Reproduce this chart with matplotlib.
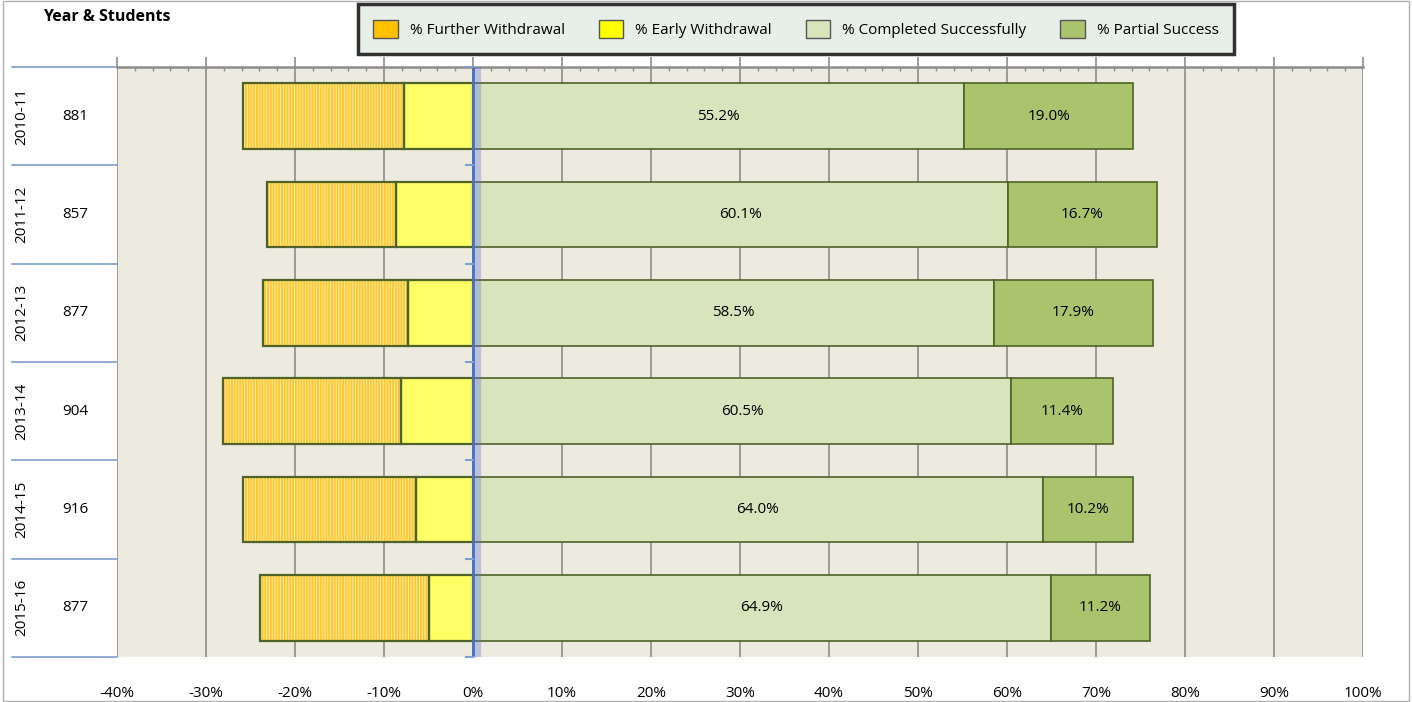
import numpy as np
import matplotlib
matplotlib.use("Agg")
import matplotlib.pyplot as plt
from matplotlib.patches import Patch, Rectangle
from matplotlib.ticker import MultipleLocator, FuncFormatter

plt.rcParams["font.family"] = ["Open Sans", "DejaVu Sans"]
plt.rcParams["hatch.linewidth"] = 1.4

# ── data ──────────────────────────────────────────────────────────────────────
years     = ["2010-11", "2011-12", "2012-13", "2013-14", "2014-15", "2015-16"]
students  = [881, 857, 877, 904, 916, 877]
further   = [18.1, 14.5, 16.3, 20.0, 19.4, 19.0]   # % further withdrawal (drawn negative)
early     = [7.7, 8.7, 7.3, 8.1, 6.4, 4.9]         # % early withdrawal (drawn negative)
completed = [55.2, 60.1, 58.5, 60.5, 64.0, 64.9]
partial   = [19.0, 16.7, 17.9, 11.4, 10.2, 11.2]

C_FURTHER = "#FFC000"
C_EARLY   = "#FFFF66"
C_COMP    = "#D8E4BC"
C_PART    = "#A9C46C"
C_EDGE    = "#4F6228"
C_BLUE    = "#7F9FD0"

# ── figure ────────────────────────────────────────────────────────────────────
fig = plt.figure(figsize=(14.12, 7.02), dpi=100)
ax = fig.add_axes([117 / 1412, 1 - 657 / 702, (1363 - 117) / 1412, (657 - 67) / 702])
ax.set_facecolor("#EDEBE0")

y = np.arange(len(years))
h = 0.67
further = np.array(further)
early = np.array(early)
completed = np.array(completed)
partial = np.array(partial)

# further withdrawal: dense orange stripes, then outline
ax.barh(y, -further, left=-early, height=h, color="#FFF4C0", edgecolor="#FFC72C",
        hatch="||||||", linewidth=0, zorder=3)
ax.barh(y, -further, left=-early, height=h, fill=False, edgecolor=C_EDGE, lw=1.6, zorder=4)
ax.barh(y, -early, height=h, color=C_EARLY, edgecolor=C_EDGE, lw=1.6, zorder=3)
ax.barh(y, completed, height=h, color=C_COMP, edgecolor=C_EDGE, lw=1.2, zorder=3)
ax.barh(y, partial, left=completed, height=h, color=C_PART, edgecolor=C_EDGE, lw=1.2, zorder=3)

for i in range(len(years)):
    ax.text(completed[i] / 2, y[i], f"{completed[i]:.1f}%", ha="center", va="center",
            fontsize=11, zorder=5)
    ax.text(completed[i] + partial[i] / 2, y[i], f"{partial[i]:.1f}%", ha="center",
            va="center", fontsize=11, zorder=5)

# zero axis (blue) with soft glow and small category ticks
ax.axvline(0.4, color="#6070E0", lw=6, alpha=0.35, zorder=5)
ax.axvline(0, color="#4A72B8", lw=2, zorder=6)
for b in np.arange(len(years) + 1) - 0.5:
    ax.plot([-0.8, 0], [b, b], color=C_BLUE, lw=1.5, zorder=6, clip_on=False)

ax.set_xlim(-40, 100)
ax.set_ylim(len(years) - 0.5, -0.5)
ax.xaxis.set_major_locator(MultipleLocator(10))
ax.xaxis.set_minor_locator(MultipleLocator(2))
ax.xaxis.set_major_formatter(FuncFormatter(lambda v, _: f"{v:.0f}%"))
ax.grid(axis="x", which="major", color="#8C8C8C", lw=1.2, zorder=1)
ax.tick_params(axis="x", which="both", top=True, bottom=False, labelbottom=True,
               labeltop=False, colors="#8C8C8C", labelcolor="black", labelsize=11,
               pad=14)
ax.tick_params(axis="x", which="major", direction="out", length=7, width=1.2)
ax.tick_params(axis="x", which="minor", direction="in", length=3, width=1)
ax.set_yticks([])
for s in ["left", "right", "bottom"]:
    ax.spines[s].set_visible(False)
ax.spines["top"].set_color("#8C8C8C")
ax.spines["top"].set_linewidth(1.8)

# category labels (year rotated + student count) in left band
tr = ax.get_yaxis_transform()
for i in range(len(years)):
    ax.text(-0.0762, y[i], years[i], rotation=90, ha="center", va="center",
            fontsize=11, transform=tr, clip_on=False)
    ax.text(-0.0337, y[i], str(students[i]), ha="center", va="center",
            fontsize=11, transform=tr, clip_on=False)
for b in np.arange(len(years) + 1) - 0.5:
    ax.plot([-0.0843, 0], [b, b], color=C_BLUE, lw=1.2, transform=tr, clip_on=False)

fig.text(43 / 1412, 1 - 17 / 702, "Year & Students", fontsize=11.5, fontweight="bold",
         ha="left", va="center")

# legend
handles = [Patch(facecolor=C_FURTHER, edgecolor="#555555", label="% Further Withdrawal"),
           Patch(facecolor="#FFFF00", edgecolor="#555555", label="% Early Withdrawal"),
           Patch(facecolor=C_COMP, edgecolor="#555555", label="% Completed Successfully"),
           Patch(facecolor=C_PART, edgecolor="#555555", label="% Partial Success")]
leg = fig.legend(handles=handles, loc="center", bbox_to_anchor=(796 / 1412, 1 - 29 / 702),
                 ncol=4, frameon=True, fancybox=False, fontsize=11, handlelength=1.6,
                 handleheight=1.5, columnspacing=2.2, borderpad=1.0, borderaxespad=0)
leg.get_frame().set_facecolor("#E3EAE3")
leg.get_frame().set_edgecolor("black")
leg.get_frame().set_linewidth(2.5)

# outer border
fig.add_artist(Rectangle((0.002, 0.002), 0.996, 0.996, transform=fig.transFigure,
                         fill=False, edgecolor="#B0B0B0", lw=1))

fig.savefig("out.png", dpi=100)
